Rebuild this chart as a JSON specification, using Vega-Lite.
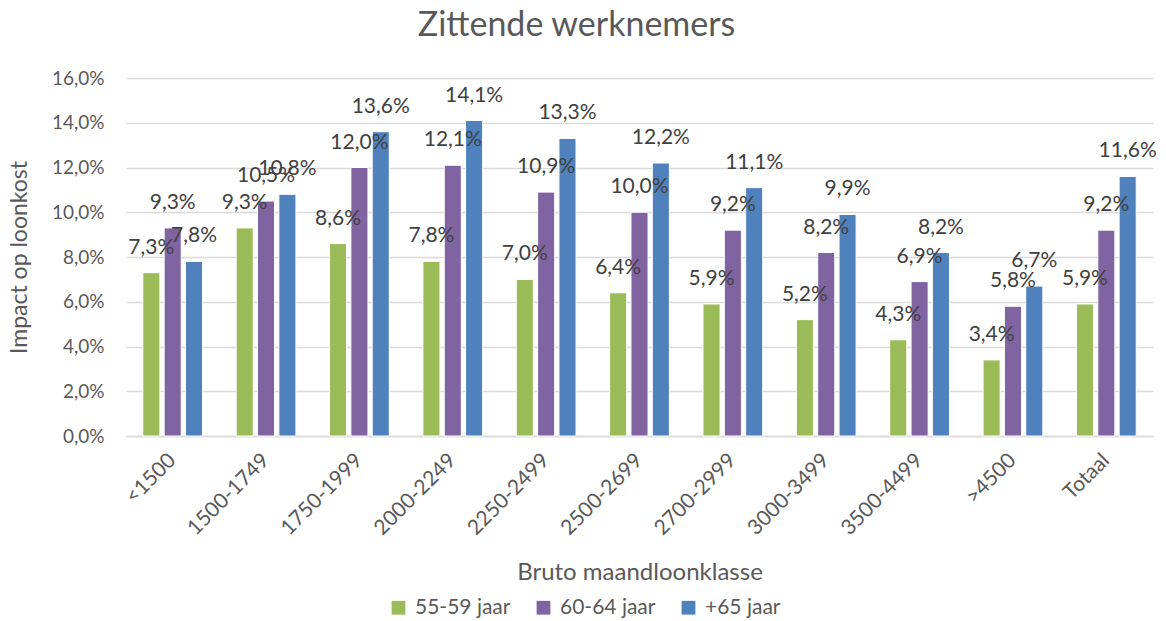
{
  "$schema": "https://vega.github.io/schema/vega-lite/v6.json",
  "width": 1027,
  "height": 358,
  "autosize": {"type": "none"},
  "padding": {"left": 126, "top": 78, "right": 13, "bottom": 185},
  "background": "white",
  "title": {"text": "Zittende werknemers", "fontSize": 34, "font": "Lato", "fontWeight": "normal", "color": "#595959", "anchor": "middle", "dx": -63, "offset": 26},
  "data": {"values": [
    {"klasse": "<1500", "groep": "55-59 jaar", "waarde": 0.073},
    {"klasse": "<1500", "groep": "60-64 jaar", "waarde": 0.093},
    {"klasse": "<1500", "groep": "+65 jaar", "waarde": 0.078},
    {"klasse": "1500-1749", "groep": "55-59 jaar", "waarde": 0.093},
    {"klasse": "1500-1749", "groep": "60-64 jaar", "waarde": 0.105},
    {"klasse": "1500-1749", "groep": "+65 jaar", "waarde": 0.108},
    {"klasse": "1750-1999", "groep": "55-59 jaar", "waarde": 0.086},
    {"klasse": "1750-1999", "groep": "60-64 jaar", "waarde": 0.120},
    {"klasse": "1750-1999", "groep": "+65 jaar", "waarde": 0.136},
    {"klasse": "2000-2249", "groep": "55-59 jaar", "waarde": 0.078},
    {"klasse": "2000-2249", "groep": "60-64 jaar", "waarde": 0.121},
    {"klasse": "2000-2249", "groep": "+65 jaar", "waarde": 0.141},
    {"klasse": "2250-2499", "groep": "55-59 jaar", "waarde": 0.070},
    {"klasse": "2250-2499", "groep": "60-64 jaar", "waarde": 0.109},
    {"klasse": "2250-2499", "groep": "+65 jaar", "waarde": 0.133},
    {"klasse": "2500-2699", "groep": "55-59 jaar", "waarde": 0.064},
    {"klasse": "2500-2699", "groep": "60-64 jaar", "waarde": 0.100},
    {"klasse": "2500-2699", "groep": "+65 jaar", "waarde": 0.122},
    {"klasse": "2700-2999", "groep": "55-59 jaar", "waarde": 0.059},
    {"klasse": "2700-2999", "groep": "60-64 jaar", "waarde": 0.092},
    {"klasse": "2700-2999", "groep": "+65 jaar", "waarde": 0.111},
    {"klasse": "3000-3499", "groep": "55-59 jaar", "waarde": 0.052},
    {"klasse": "3000-3499", "groep": "60-64 jaar", "waarde": 0.082},
    {"klasse": "3000-3499", "groep": "+65 jaar", "waarde": 0.099},
    {"klasse": "3500-4499", "groep": "55-59 jaar", "waarde": 0.043},
    {"klasse": "3500-4499", "groep": "60-64 jaar", "waarde": 0.069},
    {"klasse": "3500-4499", "groep": "+65 jaar", "waarde": 0.082},
    {"klasse": ">4500", "groep": "55-59 jaar", "waarde": 0.034},
    {"klasse": ">4500", "groep": "60-64 jaar", "waarde": 0.058},
    {"klasse": ">4500", "groep": "+65 jaar", "waarde": 0.067},
    {"klasse": "Totaal", "groep": "55-59 jaar", "waarde": 0.059},
    {"klasse": "Totaal", "groep": "60-64 jaar", "waarde": 0.092},
    {"klasse": "Totaal", "groep": "+65 jaar", "waarde": 0.116}
  ]},
  "encoding": {
    "x": {"field": "klasse", "type": "nominal", "sort": null,
      "scale": {"paddingInner": 0.36, "paddingOuter": 0.18},
      "axis": {"title": "Bruto maandloonklasse", "titleFontSize": 24, "titleFontWeight": "normal", "titleColor": "#595959", "titlePadding": 22,
        "labelAngle": -45, "labelAlign": "right", "labelBaseline": "middle", "labelFontSize": 21, "labelColor": "#595959", "labelPadding": 21,
        "ticks": false, "domainColor": "#d9d9d9", "domainWidth": 1.5}},
    "xOffset": {"field": "groep", "type": "nominal", "sort": ["55-59 jaar", "60-64 jaar", "+65 jaar"], "scale": {"paddingInner": 0.2}},
    "y": {"field": "waarde", "type": "quantitative",
      "scale": {"domain": [0, 0.16], "nice": false},
      "axis": {"title": "Impact op loonkost", "titleFontSize": 23, "titleFontWeight": "normal", "titleColor": "#595959", "titlePadding": 20,
        "format": ".1%", "values": [0, 0.02, 0.04, 0.06, 0.08, 0.10, 0.12, 0.14, 0.16], "labelFontSize": 19, "labelColor": "#595959", "labelPadding": 22,
        "ticks": false, "domain": false, "gridColor": "#d9d9d9", "gridWidth": 1.5}}
  },
  "layer": [
    {"mark": {"type": "bar", "stroke": "white", "strokeWidth": 1},
      "encoding": {"color": {"field": "groep", "type": "nominal", "sort": ["55-59 jaar", "60-64 jaar", "+65 jaar"],
        "scale": {"domain": ["55-59 jaar", "60-64 jaar", "+65 jaar"], "range": ["#9BBB59", "#8064A2", "#4F81BD"]},
        "legend": {"title": null, "orient": "none", "direction": "horizontal", "legendX": 262, "legendY": 519,
          "symbolType": "square", "symbolSize": 190, "symbolStrokeWidth": 0, "labelFontSize": 21, "labelColor": "#595959", "columnPadding": 22, "labelOffset": 6, "labelLimit": 300}}}},
    {"mark": {"type": "text", "baseline": "middle", "dy": -25, "fontSize": 21, "color": "#404040"},
      "encoding": {"text": {"field": "waarde", "type": "quantitative", "format": ".1%"}}}
  ],
  "config": {
    "font": "Lato",
    "view": {"stroke": null},
    "legend": {"labelFontSize": 21},
    "locale": {"number": {"decimal": ",", "thousands": ".", "grouping": [3], "currency": ["€", ""]}}
  }
}
